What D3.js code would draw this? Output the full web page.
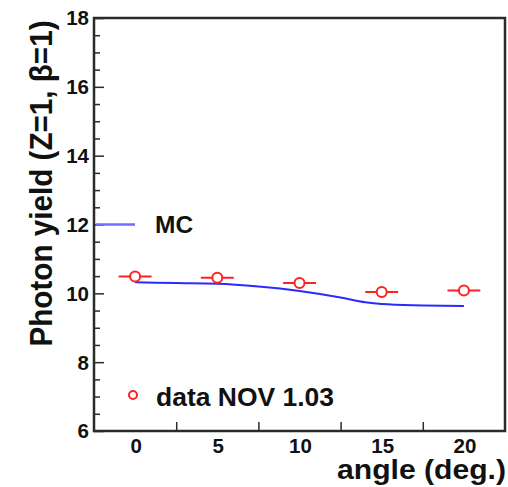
<!DOCTYPE html>
<html>
<head>
<meta charset="utf-8">
<script src="https://cdn.jsdelivr.net/npm/d3@7"></script>
<style>
  html, body { margin: 0; padding: 0; background: #fff; }
  text { font-family: "Liberation Sans", Arial, Helvetica, sans-serif; font-weight: bold; fill: #111; }
</style>
</head>
<body>
<svg id="chart" width="508" height="487"></svg>
<script>
// ---- data ----
const dataAngles = [0, 5, 10, 15, 20];
const dataYield = [10.49, 10.45, 10.30, 10.04, 10.08];
const dataAngleErr = [1, 1, 1, 1, 1];

const mcAngles = [0, 2.5, 5, 7.5, 10, 12.5, 14, 15, 17.5, 20];
const mcYield = [10.32, 10.30, 10.28, 10.20, 10.07, 9.88, 9.74, 9.69, 9.65, 9.63];

const xTickLabels = [0, 5, 10, 15, 20];
const xTickMarks = [2.5, 7.5, 12.5, 17.5];
const yTickLabels = [6, 8, 10, 12, 14, 16, 18];

const xTitle = "angle (deg.)";
const yTitle = "Photon yield (Z=1, \u03B2=1)";
const legendMC = "MC";
const legendData = "data NOV 1.03";

// ---- layout ----
const svg = d3.select("#chart");
const L = 94, R = 505, T = 18, B = 431;
const x = d3.scaleLinear().domain([-2.5, 22.5]).range([L, R]);
const y = d3.scaleLinear().domain([6, 18]).range([B, T]);
const red = "#ff2020", blue = "#2a2aff", frame = "#2b2b2b";

// minor/major y ticks (inside)
const yMinor = d3.range(6, 18.01, 0.5).filter(v => Math.abs(v % 2) > 1e-6);
const yAxis = d3.axisRight(y).tickValues(yTickLabels).tickSize(10).tickFormat("");
svg.append("g").attr("transform", `translate(${L},0)`).call(yAxis)
  .call(g => g.select(".domain").remove())
  .call(g => g.selectAll("line").attr("stroke", frame).attr("stroke-width", 1.5));
const yAxisMinor = d3.axisRight(y).tickValues(yMinor).tickSize(6).tickFormat("");
svg.append("g").attr("transform", `translate(${L},0)`).call(yAxisMinor)
  .call(g => g.select(".domain").remove())
  .call(g => g.selectAll("line").attr("stroke", frame).attr("stroke-width", 1.5));

// y tick labels
svg.append("g").selectAll("text").data(yTickLabels).join("text")
  .attr("x", 89).attr("y", d => y(d)).attr("dy", "0.36em")
  .attr("text-anchor", "end").attr("font-size", 20.5).text(d => d);

// x ticks (inside, at bin edges)
const xAxis = d3.axisTop(x).tickValues(xTickMarks).tickSize(9).tickFormat("");
svg.append("g").attr("transform", `translate(0,${B})`).call(xAxis)
  .call(g => g.select(".domain").remove())
  .call(g => g.selectAll("line").attr("stroke", frame).attr("stroke-width", 1.5));

// x tick labels
svg.append("g").selectAll("text").data(xTickLabels).join("text")
  .attr("x", d => x(d) + 1).attr("y", 453)
  .attr("text-anchor", "middle").attr("font-size", 20.5).text(d => d);

// frame
svg.append("rect").attr("x", L).attr("y", T).attr("width", R - L).attr("height", B - T)
  .attr("fill", "none").attr("stroke", frame).attr("stroke-width", 2.5);

// MC curve
const line = d3.line().x((d, i) => x(mcAngles[i])).y(d => y(d)).curve(d3.curveMonotoneX);
svg.append("path").datum(mcYield).attr("d", line)
  .attr("fill", "none").attr("stroke", blue).attr("stroke-width", 2);

// data points with horizontal error bars
const pts = svg.append("g");
pts.selectAll("line").data(dataYield).join("line")
  .attr("x1", (d, i) => x(dataAngles[i] - dataAngleErr[i]))
  .attr("x2", (d, i) => x(dataAngles[i] + dataAngleErr[i]))
  .attr("y1", d => y(d)).attr("y2", d => y(d))
  .attr("stroke", red).attr("stroke-width", 2);
pts.selectAll("circle").data(dataYield).join("circle")
  .attr("cx", (d, i) => x(dataAngles[i])).attr("cy", d => y(d)).attr("r", 5)
  .attr("fill", "#fff").attr("stroke", red).attr("stroke-width", 2);

// legend
svg.append("line").attr("x1", L + 2).attr("x2", 135).attr("y1", y(12)).attr("y2", y(12))
  .attr("stroke", "#6d6dff").attr("stroke-width", 2.5);
svg.append("text").attr("x", 155).attr("y", 233).attr("font-size", 24.5).text(legendMC);
svg.append("circle").attr("cx", 133).attr("cy", 395).attr("r", 4)
  .attr("fill", "#fff").attr("stroke", red).attr("stroke-width", 2);
svg.append("text").attr("x", 156).attr("y", 406).attr("font-size", 25)
  .attr("textLength", 178).attr("lengthAdjust", "spacingAndGlyphs").text(legendData);

// axis titles
svg.append("text").attr("x", 506).attr("y", 479).attr("text-anchor", "end")
  .attr("font-size", 27).attr("textLength", 169).attr("lengthAdjust", "spacingAndGlyphs")
  .text(xTitle);
svg.append("text").attr("transform", "translate(52,183.5) rotate(-90)")
  .attr("text-anchor", "middle").attr("font-size", 31)
  .attr("textLength", 326).attr("lengthAdjust", "spacingAndGlyphs").text(yTitle);
</script>
</body>
</html>
